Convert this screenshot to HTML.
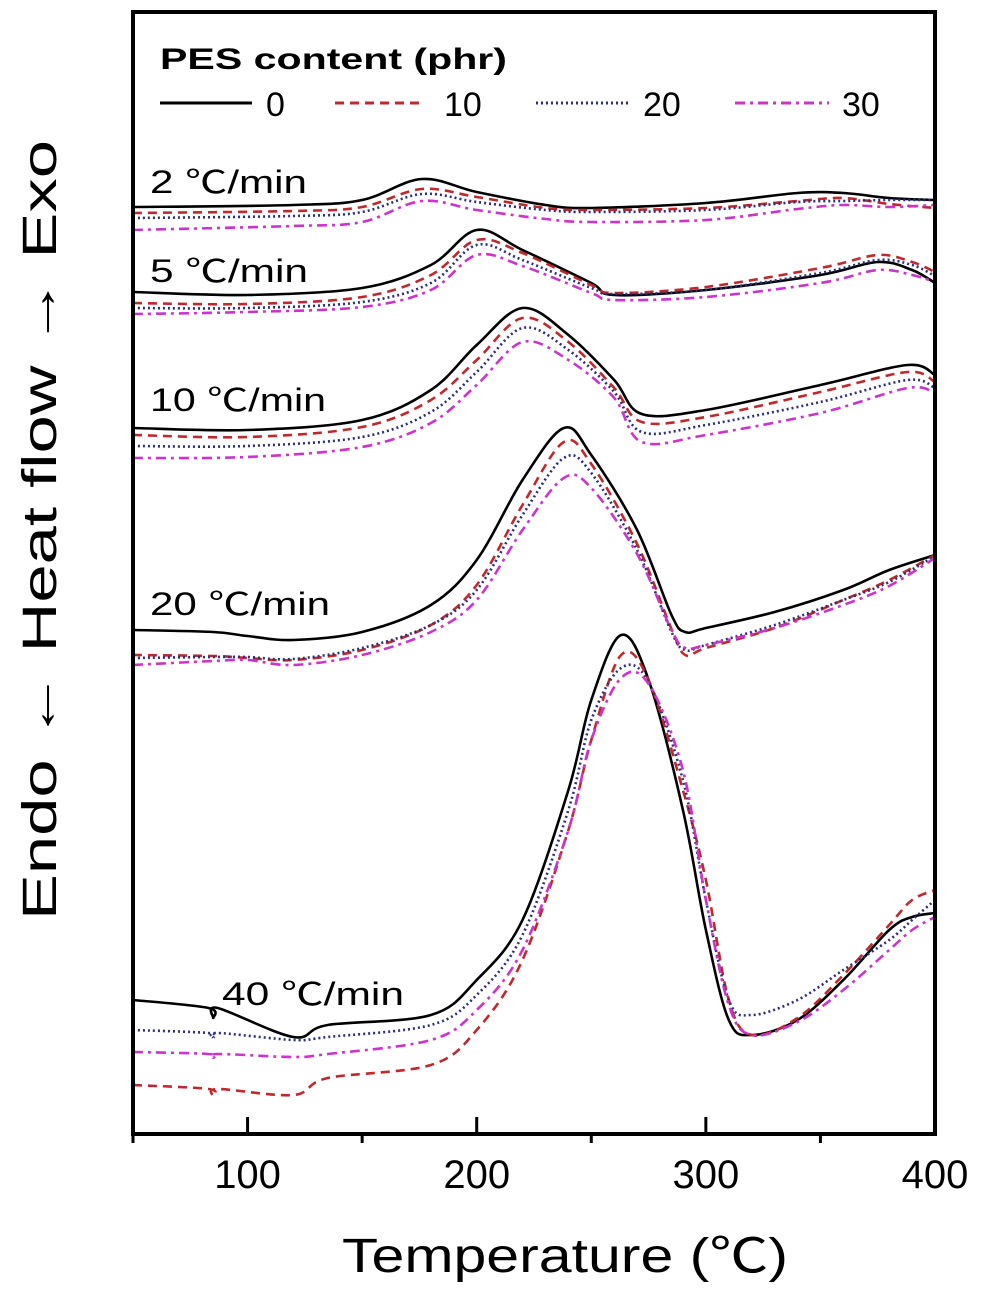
<!DOCTYPE html>
<html><head><meta charset="utf-8">
<style>
html,body{margin:0;padding:0;background:#fff;}
svg{display:block;font-family:"Liberation Sans","Noto Sans CJK SC",sans-serif;}
</style></head>
<body>
<svg id="chart" width="992" height="1295" viewBox="0 0 992 1295">
<rect x="0" y="0" width="992" height="1295" fill="#fff"/>
<g id="curves"></g>
<rect x="133" y="12" width="802" height="1122" fill="none" stroke="#000" stroke-width="4"/>
<g id="ticks"></g>
<text x="342" y="1272" font-size="48" textLength="446" lengthAdjust="spacingAndGlyphs">Temperature (℃)</text>
<text transform="translate(56,920) rotate(-90)" font-size="48" textLength="780" lengthAdjust="spacingAndGlyphs">Endo ← Heat flow → Exo</text>
<g>
<text x="160" y="69" font-size="30" font-weight="bold" textLength="347" lengthAdjust="spacingAndGlyphs">PES content (phr)</text>
<line x1="160" y1="103" x2="252" y2="103" stroke="#000" stroke-width="3"/>
<text x="266" y="116" font-size="34">0</text>
<line x1="335" y1="103" x2="423" y2="103" stroke="#c0282d" stroke-width="3" stroke-dasharray="9,6"/>
<text x="444" y="116" font-size="34">10</text>
<line x1="536" y1="103" x2="630" y2="103" stroke="#2a2f7a" stroke-width="3" stroke-dasharray="2,3"/>
<text x="643" y="116" font-size="34">20</text>
<line x1="735" y1="103" x2="829" y2="103" stroke="#cc33cc" stroke-width="3" stroke-dasharray="10,5,3,5"/>
<text x="842" y="116" font-size="34">30</text>
</g>
<g font-size="32">
<text x="150" y="193" textLength="157" lengthAdjust="spacingAndGlyphs">2 ℃/min</text>
<text x="150" y="282" textLength="158" lengthAdjust="spacingAndGlyphs">5 ℃/min</text>
<text x="150" y="411" textLength="176" lengthAdjust="spacingAndGlyphs">10 ℃/min</text>
<text x="150" y="615" textLength="180" lengthAdjust="spacingAndGlyphs">20 ℃/min</text>
<text x="222" y="1005" textLength="182" lengthAdjust="spacingAndGlyphs">40 ℃/min</text>
</g>
</svg>
<script>
// Heat flow in arbitrary units (a.u.); 0 = bottom of plot
const xTicks = [100, 200, 300, 400];
const xMinorTicks = [50, 150, 250, 350];
const rates = ["2", "5", "10", "20", "40"];
const contents = ["0", "10", "20", "30"];

const t2 = [50,120,150,176,200,230,250,300,340,360,380,400];
const r2_0  = [92.7,92.9,93.4,95.5,94.2,92.9,92.6,93.1,94.1,94.1,93.6,93.4];
const r2_10 = [92.1,92.3,92.7,94.5,93.7,92.6,92.4,92.6,93.3,93.6,93.0,92.6];
const r2_20 = [91.6,91.8,92.2,94.0,93.2,92.4,92.2,92.4,93.2,93.3,93.4,93.4];
const r2_30 = [90.4,90.8,91.2,93.3,92.4,91.5,91.2,91.4,92.5,92.9,92.7,92.9];

const t5 = [50,100,150,180,200,220,250,260,300,350,375,390,400];
const r5_0  = [84.2,83.9,84.6,86.9,90.4,88.4,85.1,83.9,84.4,85.9,87.2,86.4,85.1];
const r5_10 = [83.1,83.0,83.7,85.9,89.4,88.1,84.9,84.1,84.7,86.6,87.9,87.2,86.2];
const r5_20 = [82.6,82.6,83.2,85.1,88.9,87.4,84.6,84.0,84.4,86.1,87.4,86.9,85.8];
const r5_30 = [82.0,82.2,82.7,84.4,87.9,86.8,84.1,83.4,83.7,85.1,86.4,85.9,85.2];

const t10 = [50,100,150,180,200,220,240,260,272,300,350,388,400];
const r10_0  = [70.6,70.4,71.4,74.4,78.9,82.6,79.9,75.4,72.0,72.4,74.9,76.9,75.9];
const r10_10 = [69.9,69.7,70.7,73.4,77.4,81.6,79.2,74.6,71.2,71.7,74.2,76.2,75.2];
const r10_20 = [68.8,68.8,69.7,72.2,76.2,80.6,78.4,74.2,70.2,70.9,73.2,75.4,74.6];
const r10_30 = [67.6,67.7,68.7,71.1,74.9,79.2,77.4,73.6,69.2,69.9,72.1,74.6,74.1];

const t20 = [50,85,100,120,150,180,200,220,238,250,270,285,291,300,330,360,380,400];
const r20_0  = [50.4,50.2,49.8,49.4,50.2,52.9,57.4,65.4,70.6,67.9,60.4,51.9,50.2,50.6,52.2,54.4,56.4,57.9];
const r20_10 = [47.9,47.8,47.6,47.4,48.4,50.9,54.9,62.9,69.2,67.0,59.0,50.5,47.9,48.6,50.6,53.4,55.4,57.9];
const r20_20 = [47.6,47.7,47.7,47.5,48.6,50.9,54.4,61.9,67.6,66.1,58.4,50.2,48.4,48.9,50.9,53.4,55.2,57.8];
const r20_30 = [46.9,47.3,47.4,46.9,47.9,50.2,53.4,60.4,65.6,64.6,58.0,50.4,48.6,48.9,50.6,52.9,54.8,57.6];

const t40 = [50,83,85,87,120,135,180,200,220,240,250,263,275,290,300,310,320,340,360,380,390,400];
const r40_0  = [13.4,12.6,11.6,12.6,9.7,10.9,11.9,15.4,21.4,34.4,43.4,49.9,45.4,32.4,20.4,11.4,9.9,11.4,15.4,20.4,21.7,22.1];
const r40_10 = [4.9,4.5,3.8,4.5,3.9,5.6,6.9,10.4,17.4,30.4,39.4,47.9,45.4,34.4,25.4,13.4,9.9,11.6,15.9,20.9,23.4,24.4];
const r40_20 = [10.4,10.1,9.6,10.1,9.4,9.7,10.9,13.9,19.9,32.4,41.4,46.6,45.2,35.4,23.4,13.4,11.9,13.4,16.4,19.4,21.4,23.4];
const r40_30 = [8.2,8.0,7.6,8.0,7.7,8.0,9.4,12.4,18.4,30.4,39.4,45.6,45.0,36.4,23.4,12.9,9.9,11.2,14.4,18.4,20.4,21.7];

const sets = [
  {rate:"2", t:t2, s:[r2_0,r2_10,r2_20,r2_30]},
  {rate:"5", t:t5, s:[r5_0,r5_10,r5_20,r5_30]},
  {rate:"10", t:t10, s:[r10_0,r10_10,r10_20,r10_30]},
  {rate:"20", t:t20, s:[r20_0,r20_10,r20_20,r20_30]},
  {rate:"40", t:t40, s:[r40_0,r40_10,r40_20,r40_30]}
];

const X0 = 133, X1 = 935, Y0 = 1134, Y1 = 12;
const xScale = v => X0 + (v - 50) / 350 * (X1 - X0);
const yScale = v => Y0 - v / 112.2 * (Y0 - Y1);

const styles = [
  {c:"#000", d:""},
  {c:"#c0282d", d:"9,6"},
  {c:"#2a2f7a", d:"2,3"},
  {c:"#cc33cc", d:"10,5,3,5"}
];
const NS = "http://www.w3.org/2000/svg";

function smoothPath(pts){
  let d = "M" + pts[0][0].toFixed(1) + "," + pts[0][1].toFixed(1);
  for (let i = 0; i < pts.length - 1; i++){
    const p0 = pts[Math.max(0,i-1)], p1 = pts[i], p2 = pts[i+1], p3 = pts[Math.min(pts.length-1,i+2)];
    const c1x = p1[0] + (p2[0]-p0[0])/6, c1y = p1[1] + (p2[1]-p0[1])/6;
    const c2x = p2[0] - (p3[0]-p1[0])/6, c2y = p2[1] - (p3[1]-p1[1])/6;
    d += " C" + c1x.toFixed(1) + "," + c1y.toFixed(1) + " " + c2x.toFixed(1) + "," + c2y.toFixed(1) + " " + p2[0].toFixed(1) + "," + p2[1].toFixed(1);
  }
  return d;
}

const g = document.getElementById("curves");
sets.forEach(set => {
  set.s.forEach((vals, k) => {
    const pts = set.t.map((t, i) => [xScale(t), yScale(vals[i])]);
    const p = document.createElementNS(NS, "path");
    p.setAttribute("d", smoothPath(pts));
    p.setAttribute("fill", "none");
    p.setAttribute("stroke", styles[k].c);
    p.setAttribute("stroke-width", "2.6");
    if (styles[k].d) p.setAttribute("stroke-dasharray", styles[k].d);
    
    
    g.appendChild(p);
  });
});

const tg = document.getElementById("ticks");
xTicks.forEach(v => {
  const x = xScale(v);
  if (v < 400) {
    const l = document.createElementNS(NS, "line");
    l.setAttribute("x1", x); l.setAttribute("x2", x);
    l.setAttribute("y1", Y0 - 17); l.setAttribute("y2", Y0);
    l.setAttribute("stroke", "#000"); l.setAttribute("stroke-width", "3");
    
    
    tg.appendChild(l);
  }
  const t = document.createElementNS(NS, "text");
  t.setAttribute("x", x); t.setAttribute("y", 1188);
  t.setAttribute("font-size", "40"); t.setAttribute("text-anchor", "middle");
  t.textContent = v;
  
  
  tg.appendChild(t);
});
xMinorTicks.forEach(v => {
  const x = xScale(v);
  const l = document.createElementNS(NS, "line");
  l.setAttribute("x1", x); l.setAttribute("x2", x);
  l.setAttribute("y1", Y0); l.setAttribute("y2", Y0 + 9);
  l.setAttribute("stroke", "#000"); l.setAttribute("stroke-width", "3");
  
  
  tg.appendChild(l);
});
</script>
</body></html>
